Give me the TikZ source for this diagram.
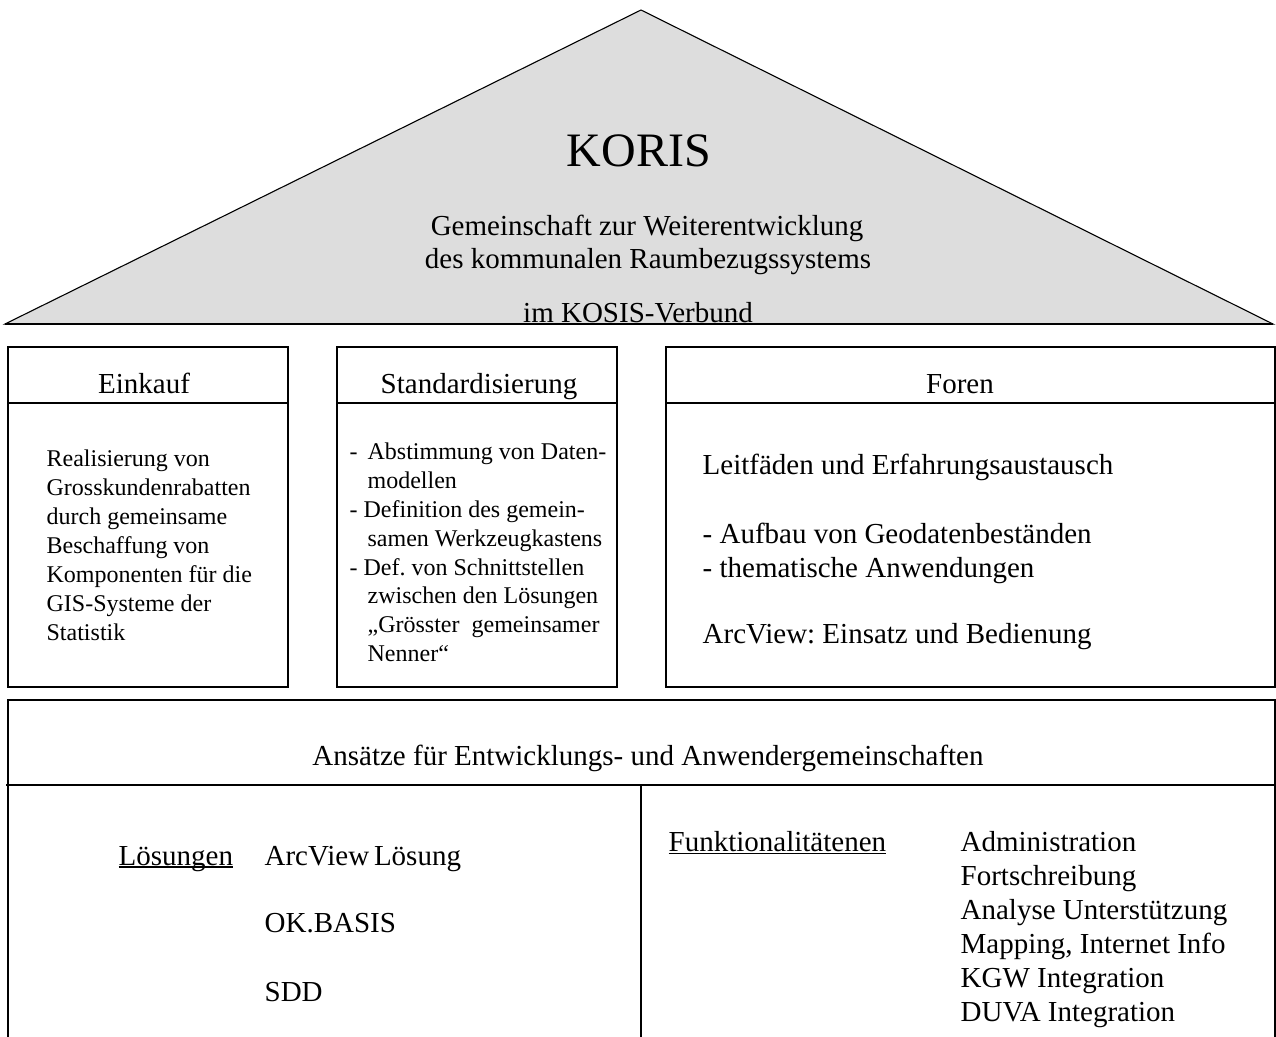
\documentclass[tikz,border=0pt]{standalone}
\usepackage{fontspec}
\setmainfont{Liberation Serif}
\frenchspacing
\newcommand{\myul}[1]{\setbox0\hbox{#1}\rlap{\rule[-2.5pt]{\wd0}{1.2pt}}\box0}
\definecolor{roofgray}{RGB}{221,221,221}
\begin{document}
\begin{tikzpicture}[x=1pt,y=-1pt,line width=1.3pt,
  frame/.style={draw=black,line width=1.3pt},
  ttl/.style={inner sep=0pt,anchor=base,font=\fontsize{29}{33}\selectfont},
  bodysmall/.style={inner sep=0pt,anchor=base west,align=left,font=\fontsize{24}{28.9}\selectfont},
  bodybig/.style={inner sep=0pt,anchor=base west,align=left,font=\fontsize{29}{34.5}\selectfont},
  funcs/.style={inner sep=0pt,anchor=base west,align=left,font=\fontsize{29}{33.9}\selectfont}]
\useasboundingbox (0,0) rectangle (1276,1036);

% roof
\coordinate (apex) at (641,10);
\coordinate (bl) at (5,324);
\coordinate (br) at (1273,324);
\filldraw[fill=roofgray,draw=black,line width=1.1pt] (apex) -- (br) -- (bl) -- cycle;
\draw[line width=2pt] (bl) -- (br);
\node[ttl,font=\fontsize{48}{52}\selectfont] (koris) at (639,166) {KORIS};
\node[ttl] (gem1) at (647,235) {Gemeinschaft zur Weiterentwicklung};
\node[ttl] (gem2) at (648,268) {des kommunalen Raumbezugssystems};
\node[ttl] (verbund) at (638,322) {im KOSIS-Verbund};

% three pillars
\draw[frame] (8,347) rectangle (288,687);
\draw[frame] (8,403) -- (288,403);
\node[ttl] (einkauf) at (144,393) {Einkauf};
% multi-line nodes: base anchor = baseline of the last line
\node[bodysmall] (einkaufbody) at (46,640) {Realisierung von\\Grosskundenrabatten\\durch gemeinsame\\Beschaffung von\\Komponenten für die\\GIS-Systeme der\\Statistik};

\draw[frame] (337,347) rectangle (617,687);
\draw[frame] (337,403) -- (617,403);
\node[ttl] (std) at (479,393) {Standardisierung};
\node[bodysmall] (stdbody) at (349,661.7) {\makebox[18pt][l]{-}Abstimmung von Daten-\\\hspace*{18pt}modellen\\\makebox[14pt][l]{-}Definition des gemein-\\\hspace*{18pt}samen Werkzeugkastens\\\makebox[14pt][l]{-}Def. von Schnittstellen\\\hspace*{18pt}zwischen den Lösungen\\\hspace*{18pt}„Grösster\ \ gemeinsamer\\\hspace*{18pt}Nenner“};

\draw[frame] (666,347) rectangle (1275,687);
\draw[frame] (666,403) -- (1275,403);
\node[ttl] (foren) at (960,393) {Foren};
\node[bodybig] (forenbody) at (702,643) {Leitfäden und Erfahrungsaustausch\\[34.5pt]- Aufbau von Geodatenbeständen\\- thematische Anwendungen\\[31pt]ArcView: Einsatz und Bedienung};

% foundation
\draw[frame] (8,1040) -- (8,700) -- (1275,700) -- (1275,1040);
\draw[frame] (6,785) -- (1275,785);
\draw[frame] (641,785) -- (641,1040);
\node[ttl] (ansaetze) at (648,765) {Ansätze für Entwicklungs- und Anwendergemeinschaften};
\node[ttl,anchor=base west] (loesungen) at (118,865) {\myul{Lösungen}};
\node[ttl,anchor=base west] (arcview) at (264,865) {ArcView\,Lösung};
\node[ttl,anchor=base west] (okbasis) at (264,932.7) {OK.BASIS};
\node[ttl,anchor=base west] (sdd) at (264,1001) {SDD};
\node[ttl,anchor=base west] (funktion) at (668,851.7) {\myul{Funktionalitätenen}};
\node[funcs] (funclist) at (960,1021) {Administration\\Fortschreibung\\Analyse Unterstützung\\Mapping, Internet Info\\KGW Integration\\DUVA Integration};
\end{tikzpicture}
\end{document}
